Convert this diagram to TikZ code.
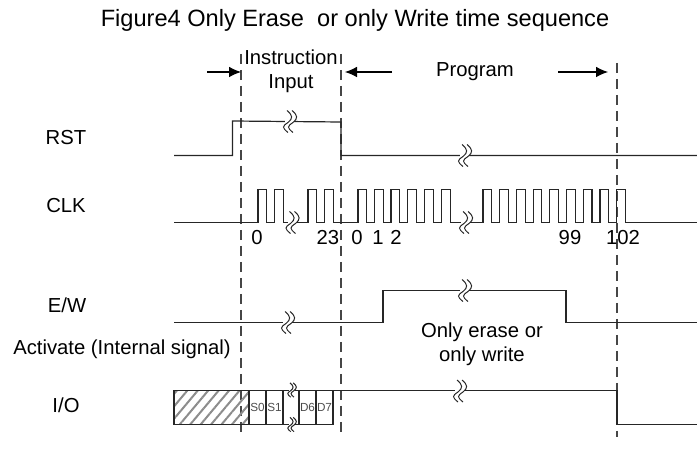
\documentclass[tikz,border=0pt]{standalone}
\usepackage{fontspec}
\setmainfont{Liberation Sans}
\usetikzlibrary{arrows.meta,patterns.meta,positioning}
\definecolor{dashgray}{RGB}{70,70,70}
\tikzset{
  signal/.style={line width=0.9pt,black!85},
  guide/.style={line width=0.95pt,dashgray,dash pattern=on 7.5pt off 4.5pt},
  timearrow/.style={line width=0.8pt,-{Latex[length=9pt,width=8pt]}},
  cell/.style={line width=0.9pt,black!85},
  sig label/.style={font=\fontsize{15.2}{18.5}\selectfont,inner sep=0pt,anchor=base},
  cell label/.style={font=\fontsize{8.8}{10}\selectfont,inner sep=0pt,text=black!70}
}
% break mark on a line
\newcommand{\wavebreak}[3][1]{
  \begin{scope}[shift={(#2,#3)},scale=#1]
    \fill[white] (-5,-4.5) rectangle (4,4.5);
    \draw[line width=0.75pt,black!85] (-3,-11) .. controls (3,-6) and (3,-3) .. (-2,1)
       .. controls (-8,5) and (-8,6) .. (-2,11);
    \draw[line width=0.75pt,black!85] (2,-11) .. controls (8,-6) and (8,-3) .. (3,1)
       .. controls (-3,5) and (-3,6) .. (3,11);
  \end{scope}
}
\begin{document}
\begin{tikzpicture}[x=0.75pt,y=-0.75pt]
  \useasboundingbox (0,0) rectangle (697,452);

  % Title
  \node[font=\fontsize{17.7}{20}\selectfont,inner sep=0pt] (title) at (355,20) {Figure4 Only Erase\ \ or only Write time sequence};

  % Guides
  \draw[guide] (241,54) -- (241,437);
  \draw[guide] (341,54) -- (341,437);
  \draw[guide] (617,63) -- (617,437);

  % Phase labels
  \node[sig label,align=center] (instr) at (291,89) {Instruction\\Input};
  \node[sig label] (prog) at (475,77) {Program};
  \draw[timearrow] (207,72) -- (241,72);
  \draw[timearrow] (392,72) -- (345,72);
  \draw[timearrow] (558,72) -- (608,72);

  % RST
  \node[sig label] (rst) at (66,145) {RST};
  \draw[signal] (174,155.5) -- (232.5,155.5) -- (232.5,121) -- (341,122) -- (341,155.5) -- (697,155.5);
  \wavebreak{290}{121.5}
  \wavebreak{465}{155.5}

  % CLK
  \node[sig label] (clk) at (66,213) {CLK};
  \draw[signal] (174,222.5)
    \foreach \rise in {258,274.5,308,324.5,358,374.5,391,407.5,424.5,441.5,483,499.7,516.4,533.1,549.8,566.5,583.2,599.9,616.6}
      { -- (\rise,222.5) -- (\rise,189.5) -- (\rise+8.7,189.5) -- (\rise+8.7,222.5) }
    -- (697,222.5);
  \wavebreak{292.5}{222.5}
  \wavebreak{466}{222.5}
  \node[sig label] (t0) at (257,245) {0};
  \node[sig label] (t23) at (328,245) {23};
  \node[sig label] (p0) at (357,245) {0};
  \node[sig label] (p1) at (378,245) {1};
  \node[sig label] (p2) at (396,245) {2};
  \node[sig label] (p99) at (570,245) {99};
  \node[sig label] (p102) at (623,245) {102};

  % E/W
  \node[sig label] (ew) at (67,313) {E/W};
  \draw[signal] (174,322.5) -- (383,322.5) -- (383,290.5) -- (566,290.5) -- (566,322.5) -- (697,322.5);
  \wavebreak{288}{322.5}
  \wavebreak{465}{290.5}
  \node[sig label,align=center] (only) at (482,362) {Only erase or\\only write};

  % I/O
  \node[sig label,anchor=base west] (act) at (13,355) {Activate (Internal signal)};
  \node[sig label] (io) at (66,413) {I/O};
  \path[pattern={Lines[angle=50,distance=6pt,line width=1.5pt]},pattern color=black!45] (174,390.5) rectangle (249,424.5);
  \draw[cell] (174,390.5) rectangle (249,424.5);
  \foreach \a/\b/\t in {249/266/S0,266/283/S1,299/316/D6,316/333/D7}
    \draw[cell] (\a,390.5) rectangle node[cell label] {\t} (\b,424.5);
  \draw[cell] (283,390.5) -- (299,390.5);
  \draw[cell] (283,424.5) -- (299,424.5);
  \wavebreak[.65]{292}{390}
  \wavebreak[.65]{292}{424.5}
  \draw[signal] (333,390.5) -- (617,390.5) -- (617,424.5) -- (697,424.5);
  \wavebreak{460}{391}
\end{tikzpicture}
\end{document}
